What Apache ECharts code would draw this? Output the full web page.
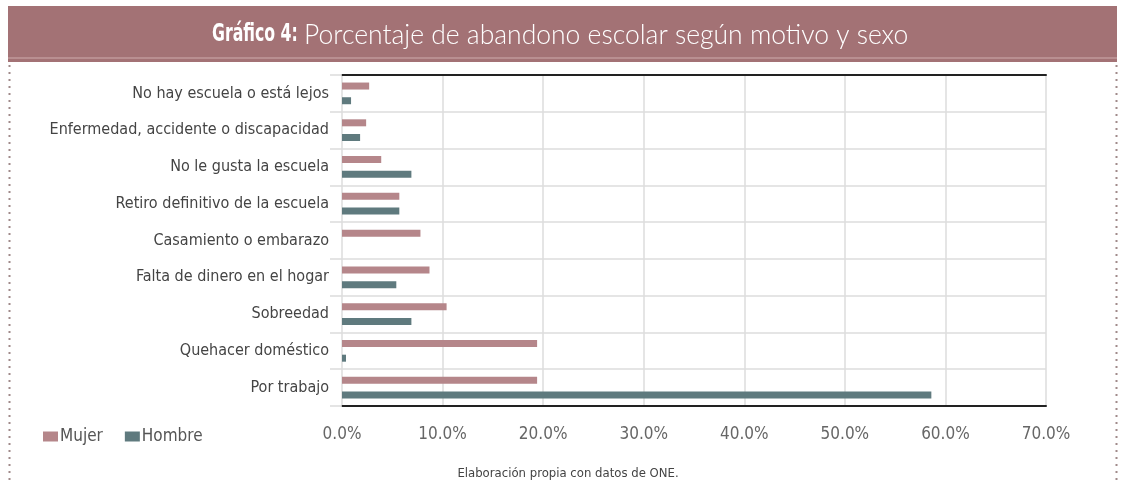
<!DOCTYPE html>
<html>
<head>
<meta charset="utf-8">
<script src="https://cdn.jsdelivr.net/npm/echarts@6/dist/echarts.min.js"></script>
<style>
  html, body { margin: 0; padding: 0; background: #fff; }
  #chart { width: 1136px; height: 481px; }
</style>
</head>
<body>
<div id="chart"></div>
<script>
// motivos de abandono (de arriba hacia abajo)
const categories = [
  'No hay escuela o está lejos',
  'Enfermedad, accidente o discapacidad',
  'No le gusta la escuela',
  'Retiro definitivo de la escuela',
  'Casamiento o embarazo',
  'Falta de dinero en el hogar',
  'Sobreedad',
  'Quehacer doméstico',
  'Por trabajo'
];
const mujer  = [2.7, 2.4, 3.9, 5.7, 7.8, 8.7, 10.4, 19.4, 19.4];
const hombre = [0.9, 1.8, 6.9, 5.7, 0, 5.4, 6.9, 0.4, 58.6];
const xTicks = [0, 10, 20, 30, 40, 50, 60, 70];

const pink = '#b5868a';
const teal = '#5f7a7e';
const narrow = '"DejaVu Sans Condensed", sans-serif';

const chart = echarts.init(document.getElementById('chart'));
const option = {
  animation: false,
  backgroundColor: '#fff',
  graphic: [
    { type: 'rect', shape: { x: 8, y: 6, width: 1109, height: 56 }, style: { fill: '#a37275' }, z: 1 },
    { type: 'rect', shape: { x: 8, y: 57, width: 1109, height: 2 }, style: { fill: '#b98f91' }, z: 2 },
    {
      type: 'text', x: 212, y: 34, scaleX: 0.7, z: 5,
      style: { text: 'Gráfico 4:', fill: '#fff', font: 'bold 25px "DejaVu Sans Condensed"', verticalAlign: 'middle' }
    },
    {
      type: 'text', x: 304, y: 35, z: 5,
      style: { text: 'Porcentaje de abandono escolar según motivo y sexo', fill: '#fff', font: '300 26.5px Lato', verticalAlign: 'middle' }
    },
    { type: 'line', shape: { x1: 9.5, y1: 65, x2: 9.5, y2: 481 }, style: { stroke: '#a08a8a', lineWidth: 2, lineDash: [2, 5] } },
    { type: 'line', shape: { x1: 1116.5, y1: 65, x2: 1116.5, y2: 481 }, style: { stroke: '#a08a8a', lineWidth: 2, lineDash: [2, 5] } },
    {
      type: 'text', left: 'center', top: 467,
      style: { text: 'Elaboración propia con datos de ONE.', fill: '#444', font: '13px ' + narrow }
    }
  ],
  legend: {
    left: 38,
    top: 423,
    itemWidth: 15,
    itemHeight: 10,
    itemGap: 22,
    icon: 'rect',
    textStyle: { color: '#555', fontFamily: narrow, fontSize: 17, padding: [0, 0, 0, -3] },
    data: ['Mujer', 'Hombre']
  },
  grid: { left: 342, right: 90, top: 75, bottom: 75 },
  xAxis: [{
    type: 'value',
    min: xTicks[0],
    max: xTicks[xTicks.length - 1],
    interval: 10,
    axisLine: { show: true, lineStyle: { color: '#222', width: 2 } },
    axisTick: { show: false },
    axisLabel: {
      color: '#666', fontFamily: narrow, fontSize: 17, margin: 20,
      formatter: v => v.toFixed(1) + '%'
    },
    splitLine: { lineStyle: { color: '#dcdcdc', width: 1.5 } }
  }, {
    type: 'value',
    position: 'top',
    min: xTicks[0],
    max: xTicks[xTicks.length - 1],
    interval: 10,
    axisLine: { show: true, lineStyle: { color: '#222', width: 2 } },
    axisTick: { show: false },
    axisLabel: { show: false },
    splitLine: { show: false }
  }],
  yAxis: {
    type: 'category',
    inverse: true,
    data: categories,
    axisLine: { show: false },
    axisTick: { show: true, length: 12, lineStyle: { color: '#dcdcdc', width: 1.5 } },
    axisLabel: { color: '#444', fontFamily: narrow, fontSize: 16, margin: 13 },
    splitLine: { show: true, lineStyle: { color: '#dcdcdc', width: 1.5 } }
  },
  series: [
    { name: 'Mujer', type: 'bar', data: mujer, barWidth: 7, barGap: '110%', itemStyle: { color: pink } },
    { name: 'Hombre', type: 'bar', data: hombre, barWidth: 7, barGap: '110%', itemStyle: { color: teal } }
  ]
};
option && chart.setOption(option);
</script>
</body>
</html>
